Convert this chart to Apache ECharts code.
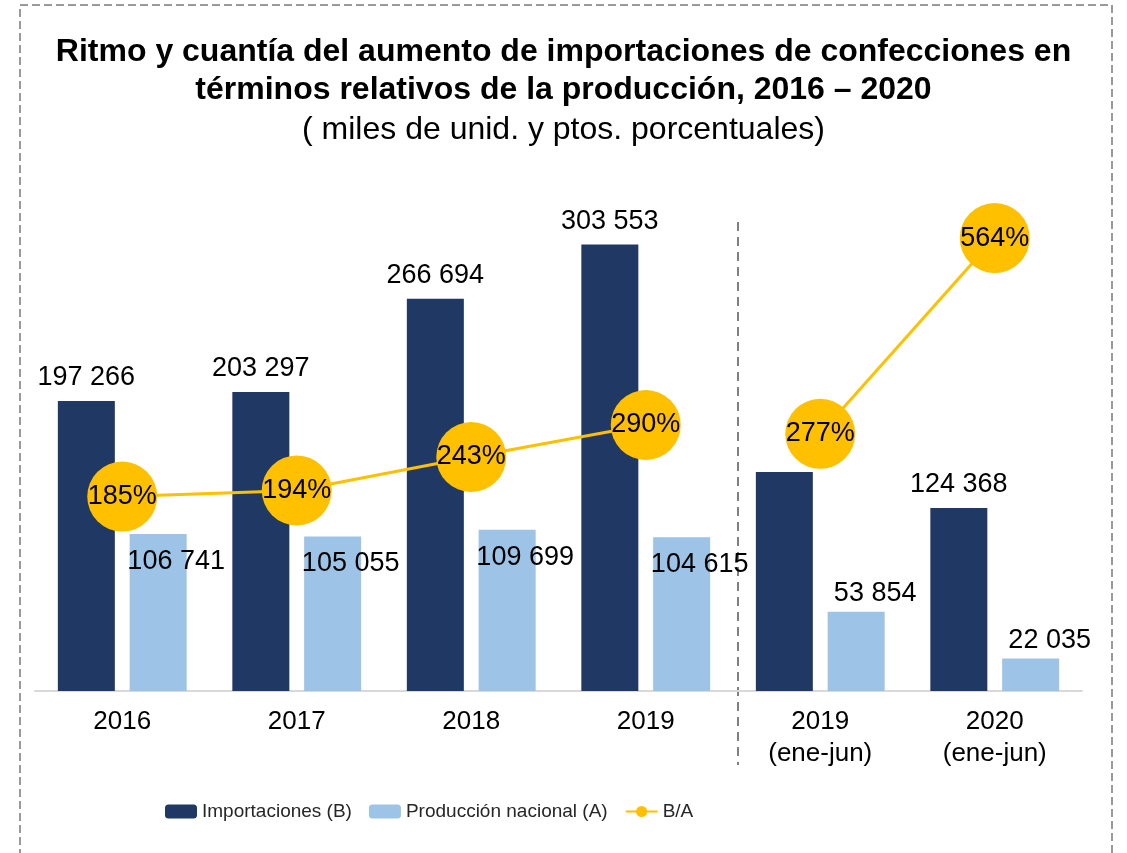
<!DOCTYPE html>
<html>
<head>
<meta charset="utf-8">
<script src="https://cdn.jsdelivr.net/npm/echarts@6/dist/echarts.min.js"></script>
<style>
  html, body { margin: 0; padding: 0; background: #fff; }
  #chart { width: 1127px; height: 853px; }
</style>
</head>
<body>
<div id="chart"></div>
<script>
const categories = ['2016', '2017', '2018', '2019', '2019\n(ene-jun)', '2020\n(ene-jun)'];
const importaciones = [197266, 203297, 266694, 303553, 149000, 124368];
const produccion = [106741, 105055, 109699, 104615, 53854, 22035];
const ratioAnual = [185, 194, 243, 290, null, null];
const ratioSemestre = [null, null, null, null, 277, 564];

const FONT = "'Liberation Sans', Arial, sans-serif";
const fmt = v => String(v).replace(/\B(?=(\d{3})+(?!\d))/g, ' ');

const myChart = echarts.init(document.getElementById('chart'));

const lineSeries = (data) => ({
  name: 'B/A',
  type: 'line',
  yAxisIndex: 1,
  data: data,
  connectNulls: false,
  symbol: 'circle',
  symbolSize: 70,
  lineStyle: { color: '#FFC000', width: 3 },
  itemStyle: { color: '#FFC000' },
  label: {
    show: true,
    position: 'inside',
    formatter: p => p.value + '%',
    fontSize: 27,
    fontFamily: FONT,
    color: '#000'
  },
  z: 5
});

const option = {
  animation: false,
  title: {
    text: 'Ritmo y cuantía del aumento de importaciones de confecciones en\ntérminos relativos de la producción, 2016 – 2020',
    subtext: '( miles de unid. y ptos. porcentuales)',
    left: 'center',
    top: 28,
    itemGap: 2,
    textStyle: { fontSize: 32, fontWeight: 'bold', lineHeight: 38, color: '#000', fontFamily: FONT },
    subtextStyle: { fontSize: 32, lineHeight: 38, color: '#000', fontFamily: FONT }
  },
  legend: {
    left: 160,
    top: 797,
    itemWidth: 32,
    itemHeight: 14,
    itemGap: 17,
    data: ['Importaciones (B)', 'Producción nacional (A)', 'B/A'],
    textStyle: { fontSize: 19, color: '#262626', fontFamily: FONT }
  },
  grid: { left: 35, right: 45, top: 191, bottom: 162 },
  xAxis: {
    type: 'category',
    data: categories,
    axisLine: { lineStyle: { color: '#D9D9D9', width: 2 } },
    axisTick: { show: false },
    axisLabel: { fontSize: 26, lineHeight: 32, margin: 15, color: '#000', fontFamily: FONT }
  },
  yAxis: [
    { type: 'value', min: 0, max: 340000, show: false, splitLine: { show: false } },
    { type: 'value', min: -100, max: 633, show: false, splitLine: { show: false } }
  ],
  series: [
    {
      name: 'Importaciones (B)',
      type: 'bar',
      barWidth: 57,
      barGap: '26%',
      itemStyle: { color: '#203864' },
      data: importaciones.map((v, i) => (i === 4 ? { value: v, label: { show: false } } : v)),
      label: {
        show: true,
        position: 'top',
        distance: 10,
        formatter: p => fmt(p.value),
        fontSize: 27,
        fontFamily: FONT,
        color: '#000'
      }
    },
    {
      name: 'Producción nacional (A)',
      type: 'bar',
      barWidth: 57,
      itemStyle: { color: '#9DC3E6' },
      data: produccion.map((v, i) => ({
        value: v,
        label: i < 4
          ? { position: 'insideTop', offset: [18, 9] }
          : { position: 'top', offset: [19, 0] }
      })),
      label: {
        show: true,
        formatter: p => fmt(p.value),
        fontSize: 27,
        fontFamily: FONT,
        color: '#000'
      }
    },
    lineSeries(ratioAnual),
    lineSeries(ratioSemestre)
  ]
};

myChart.setOption(option);

// separador punteado entre años completos y semestres
const x3 = myChart.convertToPixel({ xAxisIndex: 0 }, 3);
const x4 = myChart.convertToPixel({ xAxisIndex: 0 }, 4);
const sepX = (x3 + x4) / 2 + 5;
myChart.setOption({
  graphic: [
    {
      type: 'rect',
      shape: { x: 20, y: 5, width: 1092, height: 900 },
      style: { fill: 'none', stroke: '#9A9A9A', lineWidth: 2, lineDash: [8, 4] },
      silent: true
    },
    {
      type: 'line',
      shape: { x1: sepX, y1: 222, x2: sepX, y2: 765 },
      style: { stroke: '#808080', lineWidth: 2, lineDash: [9, 6] },
      silent: true
    }
  ]
});
</script>
</body>
</html>
